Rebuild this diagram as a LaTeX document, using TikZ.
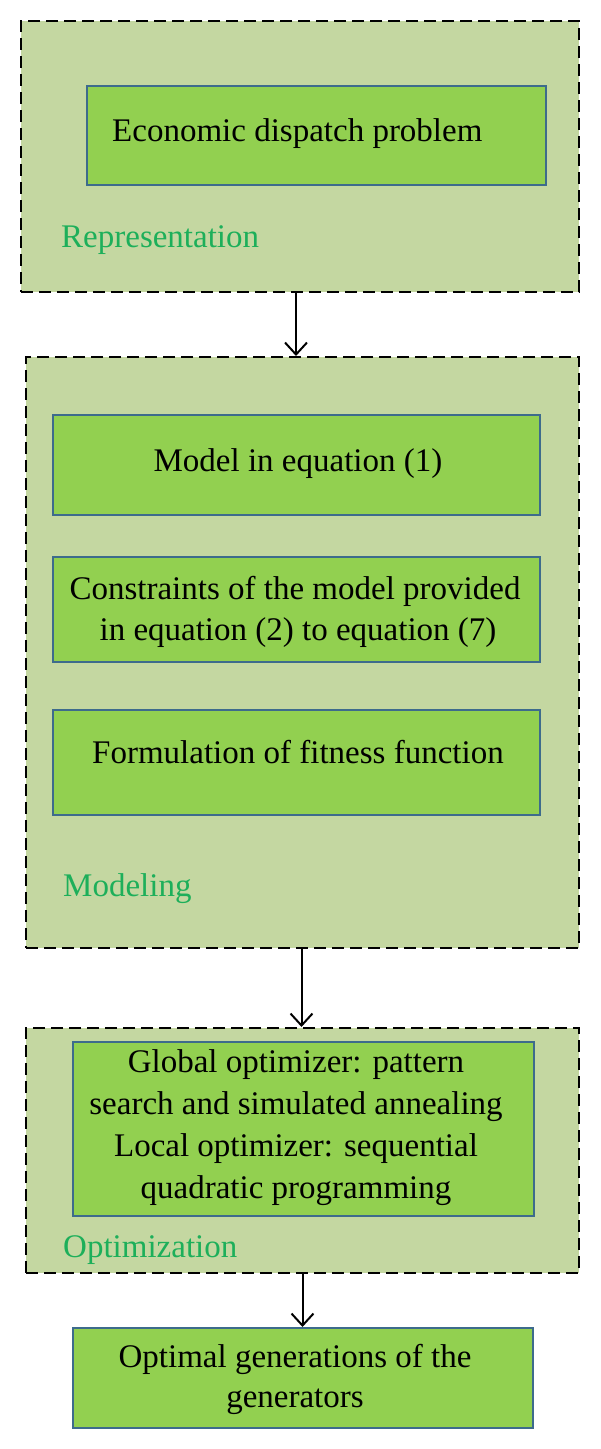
\documentclass[tikz,border=0pt]{standalone}
\usepackage{fontspec}
\setmainfont{Liberation Serif}
\usetikzlibrary{arrows.meta}
\definecolor{outerfill}{HTML}{C4D7A1}
\definecolor{innerfill}{HTML}{92D050}
\definecolor{innerline}{HTML}{3D6B8C}
\definecolor{labgreen}{HTML}{1DAF5A}
\tikzset{
  outerbox/.style={draw=black, fill=outerfill, line width=2pt, dash pattern=on 12pt off 6pt, minimum width=#1, inner sep=0pt},
  innerbox/.style={draw=innerline, fill=innerfill, line width=2pt, inner sep=0pt},
  txt/.style={inner sep=0pt, anchor=base, font=\fontsize{33}{42}\selectfont},
  lab/.style={inner sep=0pt, anchor=base west, text=labgreen, font=\fontsize{33}{42}\selectfont},
  arr/.style={draw=black, line width=2pt, -{Straight Barb[length=12pt,width=22pt,line width=2pt]}}
}
\begin{document}
\begin{tikzpicture}[x=1pt,y=-1pt]
\useasboundingbox (0,0) rectangle (600,1449);
% outer boxes
\node[outerbox=558pt, minimum height=271pt] (rep) at (300,156.5) {};
\node[outerbox=553pt, minimum height=591pt] (mod) at (302.5,652.5) {};
\node[outerbox=553pt, minimum height=245pt] (opt) at (302.5,1150.5) {};
% inner boxes
\node[innerbox, minimum width=459pt, minimum height=99pt] (edp) at (316.5,135.5) {};
\node[innerbox, minimum width=487pt, minimum height=100pt] (m1) at (296.5,465) {};
\node[innerbox, minimum width=487pt, minimum height=105pt] (m2) at (296.5,609.5) {};
\node[innerbox, minimum width=487pt, minimum height=105pt] (m3) at (296.5,762.5) {};
\node[innerbox, minimum width=461pt, minimum height=174pt] (o1) at (303.5,1129) {};
\node[innerbox, minimum width=460pt, minimum height=100pt] (fin) at (303,1378) {};
% texts
\node[txt, anchor=base west] (tedp) at (112,141) {Economic dispatch problem};
\node[txt] (tm1) at (298,471) {Model in equation (1)};
\node[txt] (tm2a) at (295,599) {Constraints of the model provided};
\node[txt] (tm2b) at (298,640) {in equation (2) to equation (7)};
\node[txt] (tm3) at (298,763) {Formulation of fitness function};
\node[txt] (to1a) at (296,1072) {Global optimizer: pattern};
\node[txt] (to1b) at (296,1114) {search and simulated annealing};
\node[txt] (to1c) at (296,1156) {Local optimizer: sequential};
\node[txt] (to1d) at (296,1198) {quadratic programming};
\node[txt] (tfa) at (295,1367) {Optimal generations of the};
\node[txt] (tfb) at (295,1407) {generators};
% labels
\node[lab] (lrep) at (61,247) {Representation};
\node[lab] (lmod) at (63,896) {Modeling};
\node[lab] (lopt) at (63,1257) {Optimization};
% arrows
\draw[arr] ([xshift=-4pt]rep.south) -- ([xshift=-4pt]rep.south |- mod.north);
\draw[arr] ([xshift=-1pt]mod.south) -- ([xshift=-1pt]mod.south |- opt.north);
\draw[arr] (opt.south) -- (opt.south |- fin.north);
\end{tikzpicture}
\end{document}
